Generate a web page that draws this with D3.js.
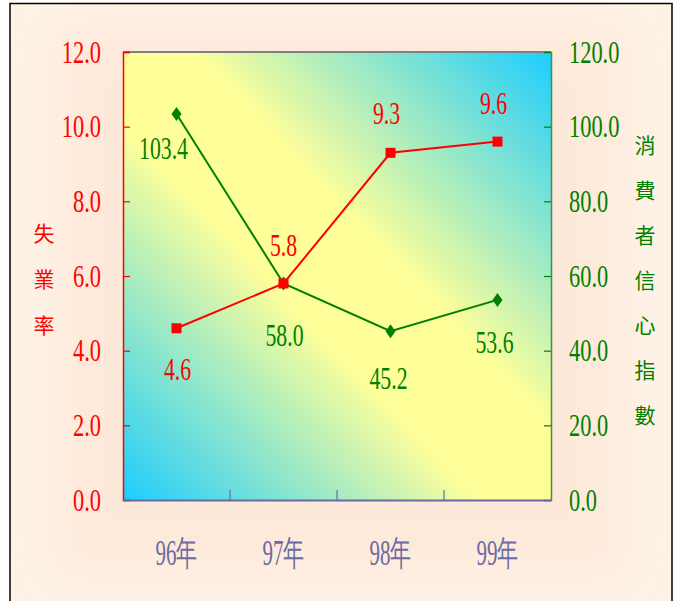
<!DOCTYPE html>
<html>
<head>
<meta charset="utf-8">
<script src="https://cdn.jsdelivr.net/npm/d3@7"></script>
<style>
  body { margin: 0; background: #fff; }
  svg { display: block; }
</style>
</head>
<body>
<div id="chart"></div>
<script>
// data
const categories = ["96年", "97年", "98年", "99年"]
const unemployment = [4.6, 5.8, 9.3, 9.6]
const confidence = [103.4, 58.0, 45.2, 53.6]
const leftTicks = [0, 2, 4, 6, 8, 10, 12]
const rightTicks = [0, 20, 40, 60, 80, 100, 120]
const leftTitle = "失業率"
const rightTitle = "消費者信心指數"

const width = 677, height = 601
const margin = {top: 52, left: 123, right: 126, bottom: 101}
const bw = width - margin.left - margin.right
const bh = height - margin.top - margin.bottom

const red = "#ff0000", green = "#008000", slate = "#6b6ba3"
const numFont = "'Liberation Serif', 'Times New Roman', serif"
const cjkFont = "'Noto Sans CJK TC', 'Noto Sans CJK SC', sans-serif"

const svg = d3.select("#chart").append("svg")
    .attr("width", width)
    .attr("height", height)

const defs = svg.append("defs")
const grad = defs.append("linearGradient")
    .attr("id", "plotGrad")
    .attr("x1", 0).attr("y1", 1).attr("x2", 1).attr("y2", 0)
grad.append("stop").attr("offset", 0).attr("stop-color", "#1ccdff")
grad.append("stop").attr("offset", 0.42).attr("stop-color", "#ffff99")
grad.append("stop").attr("offset", 0.58).attr("stop-color", "#ffff99")
grad.append("stop").attr("offset", 1).attr("stop-color", "#1ccdff")

defs.append("filter").attr("id", "glow")
    .attr("x", "-20%").attr("y", "-20%").attr("width", "140%").attr("height", "140%")
  .append("feGaussianBlur").attr("stdDeviation", 22)

// page background
svg.append("rect")
    .attr("x", 0).attr("y", 0).attr("width", width).attr("height", height)
    .attr("fill", "#fff")
svg.append("rect")
    .attr("x", 10).attr("y", 3.5).attr("width", 662).attr("height", 610)
    .attr("fill", "#fef1e6")
svg.append("rect")
    .attr("x", 60).attr("y", 30).attr("width", 560).attr("height", 540)
    .attr("fill", "#fde4d2")
    .attr("opacity", 0.6)
    .attr("filter", "url(#glow)")
svg.append("rect")
    .attr("x", 10).attr("y", 3.5).attr("width", 662).attr("height", 610)
    .attr("fill", "none")
    .attr("stroke", "#000")
    .attr("stroke-width", 1.5)

const bounds = svg.append("g")
    .attr("transform", `translate(${margin.left},${margin.top})`)

// scales
const xScale = d3.scaleBand()
    .domain(categories)
    .range([0, bw])

const yLeft = d3.scaleLinear()
    .domain([0, 12])
    .range([bh, 0])

const yRight = d3.scaleLinear()
    .domain([0, 120])
    .range([bh, 0])

const cx = d => xScale(d) + xScale.bandwidth() / 2

// plot area
bounds.append("rect")
    .attr("width", bw).attr("height", bh)
    .attr("fill", "url(#plotGrad)")

bounds.append("line")
    .attr("x1", 0).attr("x2", bw).attr("y1", 0).attr("y2", 0)
    .attr("stroke", "#808080").attr("stroke-width", 2)

// condense text horizontally like the narrow serif of the original
function condense(sel, sx, anchorX) {
  sel.each(function() {
    const t = d3.select(this)
    const x = +t.attr("x") || 0
    t.attr("x", 0)
      .attr("transform", `translate(${x + (anchorX || 0)},0) scale(${sx},1)`)
  })
}

// left axis
const leftAxis = bounds.append("g")
    .call(d3.axisLeft(yLeft).tickValues(leftTicks).tickSize(-7).tickPadding(22)
      .tickFormat(d3.format(".1f")))
leftAxis.select(".domain").attr("stroke", red).attr("stroke-width", 1.5)
leftAxis.selectAll(".tick line").attr("stroke", red).attr("stroke-width", 1.2)
leftAxis.selectAll(".tick text")
    .attr("fill", red)
    .style("font-family", numFont)
    .style("font-size", "32px")
    .call(condense, 0.7)

// right axis
const rightAxis = bounds.append("g")
    .attr("transform", `translate(${bw},0)`)
    .call(d3.axisRight(yRight).tickValues(rightTicks).tickSize(-7).tickPadding(18)
      .tickFormat(d3.format(".1f")))
rightAxis.select(".domain").attr("stroke", "#4a8a4a").attr("stroke-width", 1.5)
rightAxis.selectAll(".tick line").attr("stroke", green).attr("stroke-width", 1.2)
rightAxis.selectAll(".tick text")
    .attr("fill", green)
    .style("font-family", numFont)
    .style("font-size", "32px")
    .call(condense, 0.7)

// bottom axis
const bottomAxis = bounds.append("g")
    .attr("transform", `translate(0,${bh})`)
    .call(d3.axisBottom(xScale).tickSize(0).tickPadding(40))
bottomAxis.select(".domain").attr("stroke", slate).attr("stroke-width", 2)
bottomAxis.selectAll(".tick text")
    .attr("fill", slate)
    .style("font-family", numFont)
    .style("font-size", "35px")
    .call(condense, 0.6)

bounds.append("g").selectAll("line")
    .data(categories.slice(1))
    .enter().append("line")
    .attr("x1", d => xScale(d)).attr("x2", d => xScale(d))
    .attr("y1", bh).attr("y2", bh - 10)
    .attr("stroke", slate).attr("stroke-width", 1.2)

// axis titles
svg.append("g").selectAll("text")
    .data(leftTitle.split(""))
    .enter().append("text")
    .attr("x", 44)
    .attr("y", (d, i) => 234 + i * 46)
    .attr("dy", "0.35em")
    .attr("text-anchor", "middle")
    .attr("fill", red)
    .style("font-family", cjkFont)
    .style("font-size", "21px")
    .text(d => d)

svg.append("g").selectAll("text")
    .data(rightTitle.split(""))
    .enter().append("text")
    .attr("x", 645)
    .attr("y", (d, i) => 146 + i * 45)
    .attr("dy", "0.35em")
    .attr("text-anchor", "middle")
    .attr("fill", green)
    .style("font-family", cjkFont)
    .style("font-size", "21px")
    .text(d => d)

// lines
const redLine = d3.line()
    .x((d, i) => cx(categories[i]))
    .y(d => yLeft(d))

const greenLine = d3.line()
    .x((d, i) => cx(categories[i]))
    .y(d => yRight(d))

bounds.append("path")
    .attr("d", greenLine(confidence))
    .attr("fill", "none")
    .attr("stroke", green)
    .attr("stroke-width", 2)

bounds.append("path")
    .attr("d", redLine(unemployment))
    .attr("fill", "none")
    .attr("stroke", red)
    .attr("stroke-width", 2)

// markers
bounds.selectAll(".diamond")
    .data(confidence)
    .enter().append("path")
    .attr("class", "diamond")
    .attr("transform", (d, i) => `translate(${cx(categories[i])},${yRight(d)})`)
    .attr("d", "M0,-7L5,0L0,7L-5,0Z")
    .attr("fill", green)

bounds.selectAll(".square")
    .data(unemployment)
    .enter().append("rect")
    .attr("class", "square")
    .attr("x", (d, i) => cx(categories[i]) - 5)
    .attr("y", d => yLeft(d) - 5)
    .attr("width", 10).attr("height", 10)
    .attr("fill", red)

// value labels
const redOffset = [[1, 41], [0, -39], [-4, -40], [-4, -39]]
const greenOffset = [[-13, 34], [1, 51], [-2, 47], [-3, 42]]

bounds.selectAll(".redLabel")
    .data(unemployment)
    .enter().append("text")
    .attr("class", "redLabel")
    .attr("x", 0)
    .attr("transform", (d, i) => `translate(${cx(categories[i]) + redOffset[i][0]},${yLeft(d) + redOffset[i][1]}) scale(0.68,1)`)
    .attr("dy", "0.35em")
    .attr("text-anchor", "middle")
    .attr("fill", red)
    .style("font-family", numFont)
    .style("font-size", "32px")
    .text(d => d.toFixed(1))

bounds.selectAll(".greenLabel")
    .data(confidence)
    .enter().append("text")
    .attr("class", "greenLabel")
    .attr("x", 0)
    .attr("transform", (d, i) => `translate(${cx(categories[i]) + greenOffset[i][0]},${yRight(d) + greenOffset[i][1]}) scale(0.68,1)`)
    .attr("dy", "0.35em")
    .attr("text-anchor", "middle")
    .attr("fill", green)
    .style("font-family", numFont)
    .style("font-size", "32px")
    .text(d => d.toFixed(1))
</script>
</body>
</html>
